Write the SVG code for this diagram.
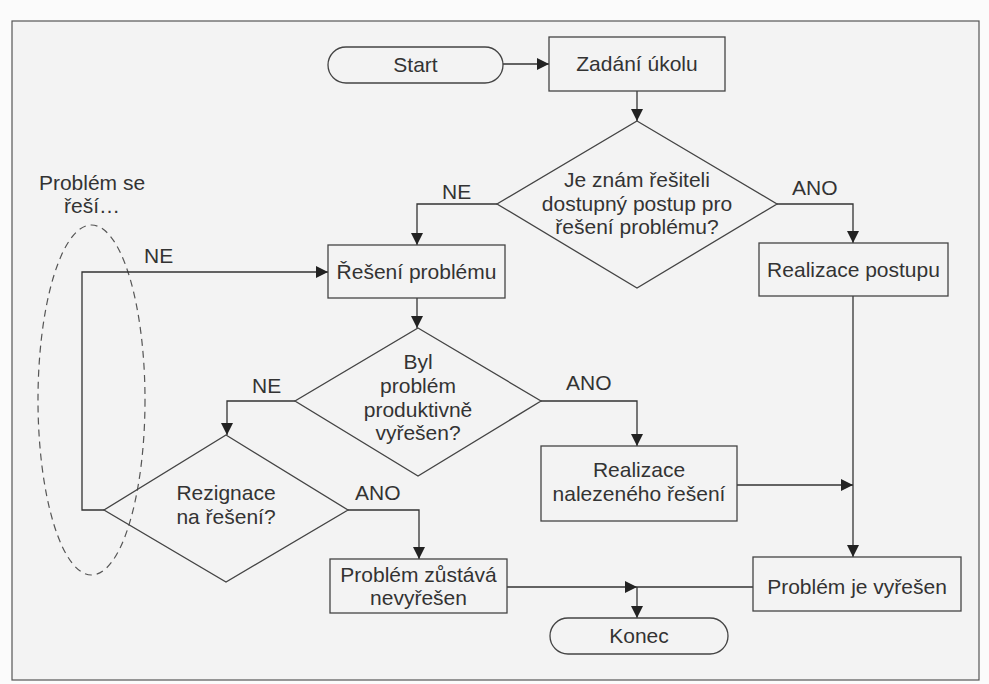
<svg xmlns="http://www.w3.org/2000/svg" width="989" height="684" viewBox="0 0 989 684">
<defs>
<style>
.shape{fill:none;stroke:#444;stroke-width:1.3}
.conn{fill:none;stroke:#333;stroke-width:1.3}
text{font-family:"Liberation Sans",Arial,sans-serif;font-size:21px;fill:#333;text-anchor:middle}
.lbl{text-anchor:start}
</style>
<marker id="arr" markerUnits="userSpaceOnUse" markerWidth="12" markerHeight="12" viewBox="0 0 12 12" refX="12" refY="6" orient="auto">
<path d="M0,0 L12,6 L0,12 Z" fill="#222"/>
</marker>
</defs>
<rect x="0" y="0" width="989" height="684" fill="#fbfbfb"/>
<rect x="12" y="21" width="967" height="659" fill="#f3f3f3" stroke="#555" stroke-width="1.2"/>

<g id="loop-note">
<ellipse cx="91.5" cy="400" rx="53.5" ry="175" fill="none" stroke="#555" stroke-width="1.2" stroke-dasharray="7,5"/>
<text x="92" y="190">Problém se</text>
<text x="92" y="213">řeší…</text>
</g>

<g id="connectors">
<path class="conn" d="M503,64 H549" marker-end="url(#arr)"/>
<path class="conn" d="M637,91 V121" marker-end="url(#arr)"/>
<path class="conn" d="M777,204 H853 V243" marker-end="url(#arr)"/>
<path class="conn" d="M497,204 H417 V245" marker-end="url(#arr)"/>
<path class="conn" d="M417,298 V328" marker-end="url(#arr)"/>
<path class="conn" d="M295,401 H227 V435" marker-end="url(#arr)"/>
<path class="conn" d="M541,401 H637 V446" marker-end="url(#arr)"/>
<path class="conn" d="M348,510 H419 V559" marker-end="url(#arr)"/>
<path class="conn" d="M104,510 H82 V272 H328" marker-end="url(#arr)"/>
<path class="conn" d="M737,485 H853" marker-end="url(#arr)"/>
<path class="conn" d="M853,296 V557" marker-end="url(#arr)"/>
<path class="conn" d="M507,587 H637" marker-end="url(#arr)"/>
<path class="conn" d="M753,587 H637"/>
<path class="conn" d="M637,587 V618" marker-end="url(#arr)"/>
<text class="lbl" x="792" y="195">ANO</text>
<text class="lbl" x="442" y="199">NE</text>
<text class="lbl" x="144" y="263">NE</text>
<text class="lbl" x="252" y="393">NE</text>
<text class="lbl" x="566" y="390">ANO</text>
<text class="lbl" x="355" y="500">ANO</text>
</g>

<g id="start">
<rect class="shape" x="328" y="47" width="175" height="36" rx="18" ry="18"/>
<text x="415.5" y="72">Start</text>
</g>

<g id="zadani">
<rect class="shape" x="549" y="37" width="176" height="54"/>
<text x="637" y="71">Zadání úkolu</text>
</g>

<g id="d1">
<polygon class="shape" points="637,121 777,204 637,288 497,204"/>
<text x="637" y="187">Je znám řešiteli</text>
<text x="637" y="211">dostupný postup pro</text>
<text x="637" y="234">řešení problému?</text>
</g>

<g id="realizace-postupu">
<rect class="shape" x="759" y="243" width="189" height="53"/>
<text x="853.5" y="277">Realizace postupu</text>
</g>

<g id="reseni">
<rect class="shape" x="328" y="245" width="177" height="53"/>
<text x="416.5" y="279">Řešení problému</text>
</g>

<g id="d2">
<polygon class="shape" points="418,328 541,401 418,476 295,401"/>
<text x="418" y="369">Byl</text>
<text x="418" y="393">problém</text>
<text x="418" y="417">produktivně</text>
<text x="418" y="440">vyřešen?</text>
</g>

<g id="realizace-nalezeneho">
<rect class="shape" x="541" y="446" width="196" height="75"/>
<text x="639" y="477">Realizace</text>
<text x="639" y="501">nalezeného řešení</text>
</g>

<g id="rezignace">
<polygon class="shape" points="226,435 348,510 226,582 104,510"/>
<text x="226" y="500">Rezignace</text>
<text x="226" y="524">na řešení?</text>
</g>

<g id="nevyresen">
<rect class="shape" x="330" y="559" width="177" height="54"/>
<text x="418.5" y="582">Problém zůstává</text>
<text x="418.5" y="605">nevyřešen</text>
</g>

<g id="vyresen">
<rect class="shape" x="753" y="557" width="208" height="54"/>
<text x="857" y="594">Problém je vyřešen</text>
</g>

<g id="konec">
<rect class="shape" x="550" y="618" width="178" height="36" rx="18" ry="18"/>
<text x="639" y="643">Konec</text>
</g>
</svg>
